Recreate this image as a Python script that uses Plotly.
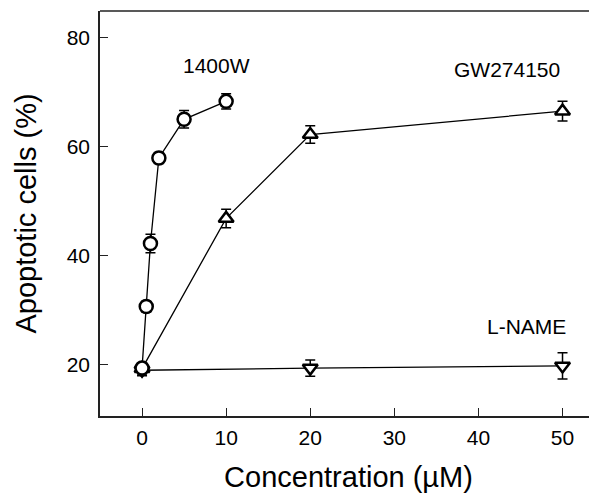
import plotly.graph_objects as go

# Data
conc_1400w = [0, 0.5, 1, 2, 5, 10]
apo_1400w = [19.3, 30.6, 42.2, 57.9, 65.0, 68.3]
err_1400w = [1.0, 1.0, 1.7, 1.0, 1.6, 1.4]

conc_gw = [0, 10, 20, 50]
apo_gw = [19.2, 46.8, 62.2, 66.5]
err_gw = [1.0, 1.7, 1.6, 1.8]

conc_lname = [0, 20, 50]
apo_lname = [18.9, 19.3, 19.7]
err_lname = [1.0, 1.5, 2.4]

labels = ["1400W", "GW274150", "L-NAME"]
label_x = [8.9, 43.45, 45.7]
label_y = [74.8, 74.1, 26.9]

FONT = "Arial, Liberation Sans, sans-serif"

def series(x, y, e, symbol):
    return go.Scatter(
        x=x, y=y, mode="lines+markers",
        line=dict(color="black", width=1.3),
        marker=dict(symbol=symbol, size=13, color="white",
                    line=dict(color="black", width=2.5)),
        error_y=dict(type="data", array=e, visible=True,
                     color="black", thickness=1.5, width=5),
        showlegend=False,
        cliponaxis=False,
    )

fig = go.Figure()
fig.add_trace(series(conc_lname, apo_lname, err_lname, "triangle-down"))
fig.add_trace(series(conc_gw, apo_gw, err_gw, "triangle-up"))
fig.add_trace(series(conc_1400w, apo_1400w, err_1400w, "circle"))

for t, x, y in zip(labels, label_x, label_y):
    fig.add_annotation(x=x, y=y, text=t, showarrow=False,
                       font=dict(family=FONT, size=21, color="black"))

# top border line
fig.add_shape(type="line", xref="paper", yref="paper", x0=0, x1=1, y0=1, y1=1,
              line=dict(color="#222", width=1.5))

fig.update_layout(
    width=589, height=489,
    margin=dict(l=92, r=0, t=3, b=81),
    plot_bgcolor="white", paper_bgcolor="white",
    font=dict(family=FONT, color="black"),
    xaxis=dict(
        range=[-5.0, 54.1], tickvals=[0, 10, 20, 30, 40, 50],
        ticks="inside", ticklen=8, tickwidth=1.3, tickcolor="#222",
        showline=True, linecolor="#222", linewidth=1.5,
        showgrid=False, zeroline=False, ticklabelstandoff=2,
        tickfont=dict(size=21, family=FONT),
        title=dict(text="Concentration (µM)", font=dict(size=29, family=FONT), standoff=19),
    ),
    yaxis=dict(
        range=[10.5, 84.9], tickvals=[20, 40, 60, 80],
        ticks="inside", ticklen=8, tickwidth=1.3, tickcolor="#222",
        showline=True, linecolor="#222", linewidth=1.5,
        showgrid=False, zeroline=False, ticklabelstandoff=4,
        tickfont=dict(size=21, family=FONT),
        title=dict(text="Apoptotic cells (%)", font=dict(size=29, family=FONT), standoff=22),
    ),
)

fig.write_html("out.html")
